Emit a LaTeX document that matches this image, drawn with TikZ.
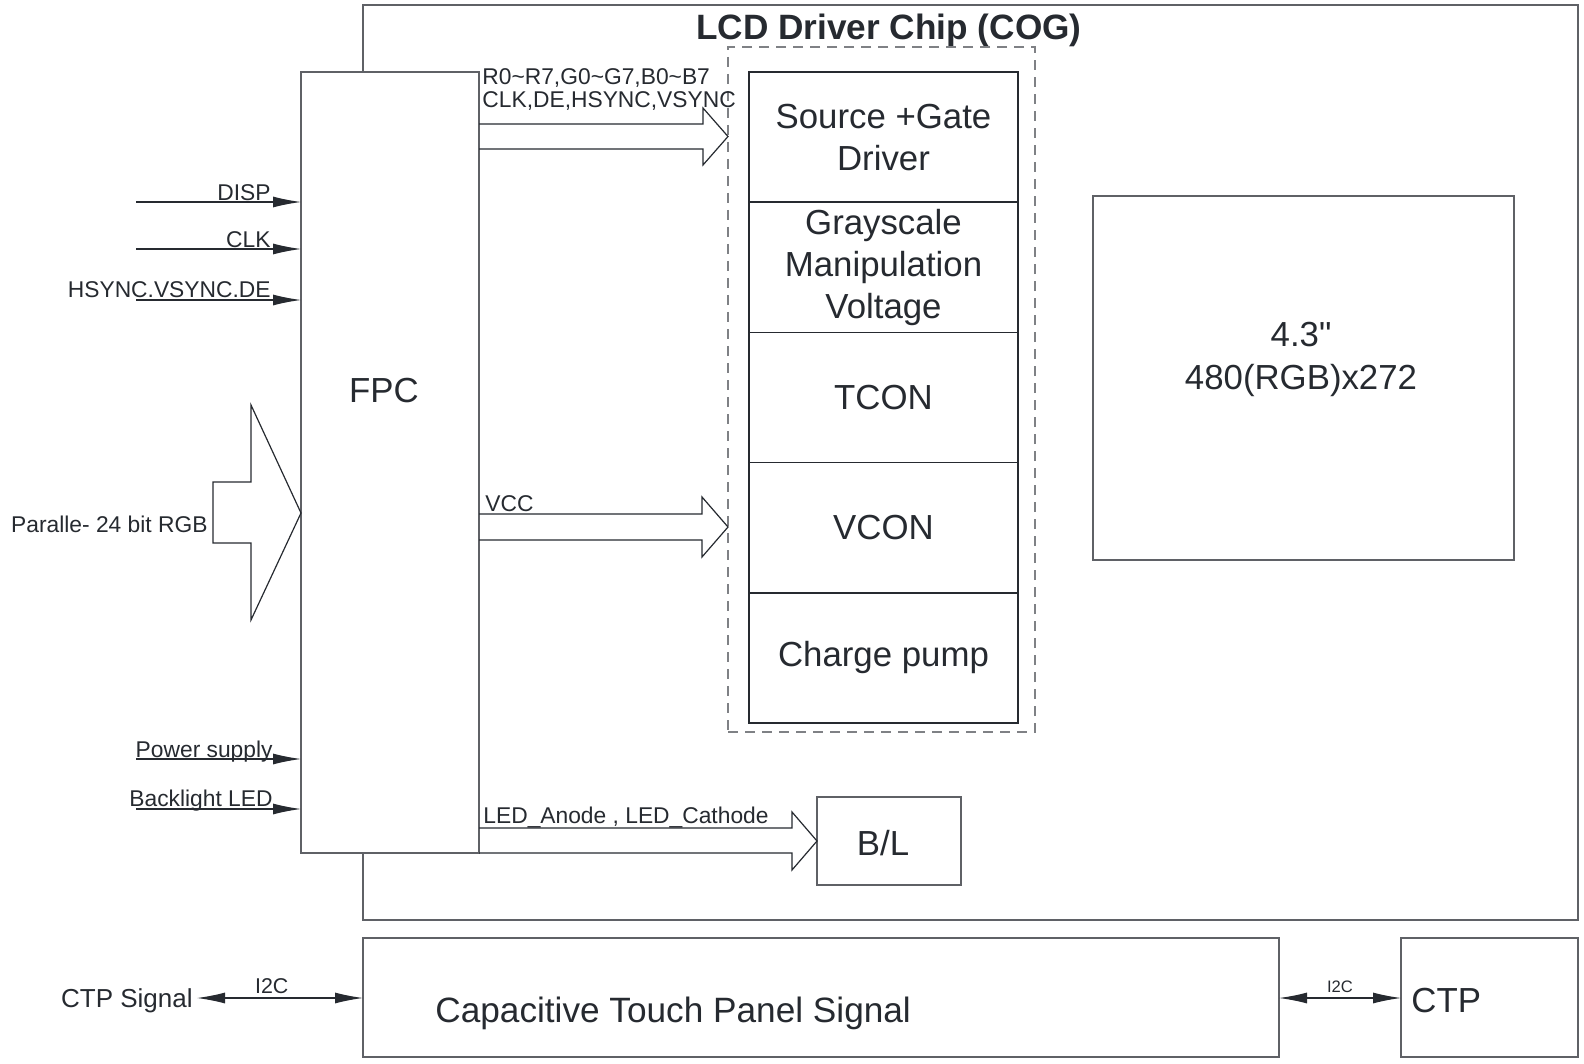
\documentclass[tikz,border=0pt]{standalone}
\usepackage{fontspec}
\setmainfont{Liberation Sans}[Ligatures=TeXOff]
\usetikzlibrary{arrows.meta,positioning}

\definecolor{ink}{RGB}{38,42,48}
\definecolor{frame}{RGB}{95,97,102}
\newcommand{\sigfont}{\fontsize{11.4pt}{11.5pt}\selectfont}
\newcommand{\blockfont}{\fontsize{17.4pt}{21pt}\selectfont}

\begin{document}
\begin{tikzpicture}[x=0.5pt,y=-0.5pt,
        box/.style={draw=frame, line width=0.7pt, fill=white, inner sep=0pt, outer sep=0pt},
        cell/.style={box, draw=ink, minimum width=134.5pt, minimum height=65.1pt, align=center, font=\blockfont, text=ink},
        lbl/.style={inner sep=0pt, text=ink, font=\sigfont},
        big/.style={inner sep=0pt, text=ink, font=\blockfont},
        sig/.style={draw=ink, line width=0.6pt, -{Latex[length=14pt,width=5.5pt]}},
        duplex/.style={draw=ink, line width=0.6pt, {Latex[length=14pt,width=5.5pt]}-{Latex[length=14pt,width=5.5pt]}},
        fat/.style={draw=ink, line width=0.6pt, line join=miter}]
        \useasboundingbox (0,0) rectangle (1584,1064);

        % chip outline and title
        \node[box, minimum width=607.5pt, minimum height=457.5pt] (cog) at (970.5,462.5) {};
        \node[inner sep=0pt, text=ink, font=\fontsize{17.6pt}{20pt}\selectfont\bfseries, anchor=base] (title) at (889,40) {LCD Driver Chip (COG)};

        % flex connector
        \node[box, minimum width=89pt, minimum height=390.5pt] (fpc) at (390,462.5) {};
        \node[big] (fpclbl) at (384,391) {FPC};

        % driver blocks
        \node[box, draw=frame!80, dash pattern=on 5pt off 3.5pt, fill=none, minimum width=153.5pt, minimum height=342.5pt] (drv) at (881.5,389.5) {};
        \node[cell] (src) at (883.5,137.1) {Source +Gate\\Driver};
        \node[cell, below=0pt of src] (gray) {Grayscale\\Manipulation\\Voltage};
        \node[cell, below=0pt of gray] (tcon) {TCON};
        \node[cell, below=0pt of tcon] (vcon) {VCON};
        \node[cell, below=0pt of vcon] (pump) {Charge pump};

        % panel
        \node[box, minimum width=210.5pt, minimum height=182pt] (lcd) at (1303.5,378) {};
        \node[big, align=center, font=\fontsize{17.4pt}{21.5pt}\selectfont] (lcdlbl) at (1301,359) {4.3"\\480(RGB)x272};
        \node[box, minimum width=72pt, minimum height=44pt] (bl) at (889,841) {};
        \node[big] (bllbl) at (883,843) {B/L};

        % touch panel row
        \node[box, minimum width=458pt, minimum height=59.5pt] (ctpanel) at (821,997.5) {};
        \node[big, anchor=west, font=\fontsize{17.6pt}{21pt}\selectfont] (ctpanellbl) at (435,1013) {Capacitive Touch Panel Signal};
        \node[box, minimum width=88.5pt, minimum height=59.5pt] (ctp) at (1489.5,997.5) {};
        \node[big, anchor=west] (ctplbl) at (1411,1001) {CTP};
        \node[lbl, font=\fontsize{13pt}{15pt}\selectfont, anchor=east, inner sep=2pt] (ctpsig) at (197,1001) {CTP Signal};
        \coordinate (bus) at (0,998);
        \draw[duplex] (ctpsig.east |- bus) -- node[pos=0.45, lbl, above=2pt, font=\fontsize{10.7pt}{12pt}\selectfont] (i2cl) {I2C} (ctpanel.west |- bus);
        \draw[duplex] (ctpanel.east |- bus) -- node[lbl, above=2.5pt, font=\fontsize{8.3pt}{10pt}\selectfont] (i2cr) {I2C} (ctp.west |- bus);

        % inputs into the FPC
        \node[lbl, anchor=base east] (disp) at (271,201) {DISP};
        \coordinate (dispin) at (136,202);
        \node[lbl, anchor=base east] (clk) at (271,248) {CLK};
        \coordinate (clkin) at (136,249);
        \node[lbl, anchor=base east] (sync) at (271,298) {HSYNC.VSYNC.DE};
        \coordinate (syncin) at (136,300);
        \node[lbl, anchor=base east] (pwr) at (273,757) {Power supply};
        \coordinate (pwrin) at (136,759);
        \node[lbl, anchor=base east] (led) at (273,806) {Backlight LED};
        \coordinate (ledin) at (136,809);
        \path
            (dispin) edge[sig] (dispin -| fpc.west)
            (clkin) edge[sig] (clkin -| fpc.west)
            (syncin) edge[sig] (syncin -| fpc.west)
            (pwrin) edge[sig] (pwrin -| fpc.west)
            (ledin) edge[sig] (ledin -| fpc.west);

        % parallel RGB bus
        \draw[fat] (213,482) -- (251,482) -- (251,405) -- (fpc.west |- 0,513) -- (251,620) -- (251,543) -- (213,543) -- cycle;
        \node[lbl, anchor=base east] (rgbin) at (208,532) {Paralle- 24 bit RGB};

        % outputs of the FPC
        \draw[fat] (fpc.east |- 0,124) -- (703,124) -- (703,108) -- (drv.west |- 0,136.5) -- (703,165) -- (703,149) -- (fpc.east |- 0,149);
        \node[lbl, anchor=base west] (rgbout) at (482,85) {R0\textasciitilde R7,G0\textasciitilde G7,B0\textasciitilde B7};
        \node[lbl, anchor=base west] (syncout) at (482,108) {CLK,DE,HSYNC,VSYNC};
        \draw[fat] (fpc.east |- 0,514) -- (702,514) -- (702,497) -- (drv.west |- 0,527) -- (702,557) -- (702,540) -- (fpc.east |- 0,540);
        \node[lbl, anchor=base west] (vcc) at (485,511) {VCC};
        \draw[fat] (fpc.east |- 0,828) -- (792,828) -- (792,812) -- (bl.west) -- (792,870) -- (792,853) -- (fpc.south east);
        \node[lbl, anchor=base west] (ledout) at (483,823) {LED\_Anode , LED\_Cathode};
    \end{tikzpicture}
\end{document}
